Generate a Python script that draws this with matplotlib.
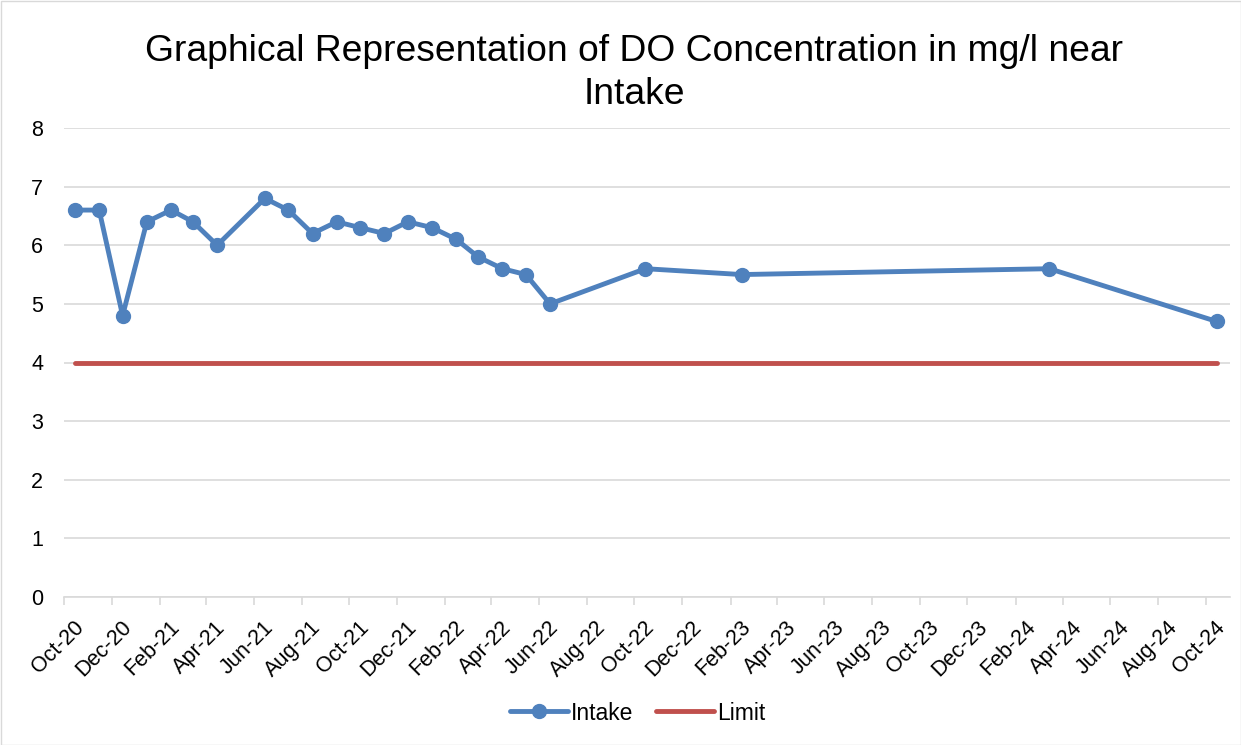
import matplotlib
matplotlib.use("Agg")
import matplotlib.pyplot as plt
import matplotlib.dates as mdates
import matplotlib.transforms as mtransforms
import pandas as pd

plt.rcParams['font.family'] = ['Liberation Sans', 'DejaVu Sans']

dates = ["2020-10-15", "2020-11-15", "2020-12-15", "2021-01-15", "2021-02-15",
         "2021-03-15", "2021-04-15", "2021-06-15", "2021-07-15", "2021-08-15",
         "2021-09-15", "2021-10-15", "2021-11-15", "2021-12-15", "2022-01-15",
         "2022-02-15", "2022-03-15", "2022-04-15", "2022-05-15", "2022-06-15",
         "2022-10-15", "2023-02-15", "2024-03-15", "2024-10-15"]
intake = [6.6, 6.6, 4.8, 6.4, 6.6, 6.4, 6.0, 6.8, 6.6, 6.2, 6.4, 6.3,
          6.2, 6.4, 6.3, 6.1, 5.8, 5.6, 5.5, 5.0, 5.6, 5.5, 5.6, 4.7]
limit = [4] * len(dates)

x = pd.to_datetime(dates)

fig = plt.figure(figsize=(12.41, 7.45), dpi=100)
ax = fig.add_axes([64/1241, 1-597/745, (1230-64)/1241, (597-128)/745])

blue = "#4f81bd"
red = "#c0504d"
ax.plot(x, intake, color=blue, lw=3.5, marker='o', ms=10, label="Intake", zorder=3,
        solid_capstyle='round')
ax.plot(x, limit, color=red, lw=3.5, label="Limit", zorder=2, solid_capstyle='round')

ax.set_ylim(0, 8)
ax.set_yticks(range(0, 9))
ax.set_xlim(pd.Timestamp("2020-10-01"), pd.Timestamp("2024-11-01"))
ax.xaxis.set_major_locator(mdates.MonthLocator(bymonth=[2, 4, 6, 8, 10, 12]))
ax.xaxis.set_major_formatter(mdates.DateFormatter("%b-%y"))

ax.grid(axis='y', color='#d9d9d9', lw=1.2)
ax.set_axisbelow(True)
for s in ['top', 'right', 'left']:
    ax.spines[s].set_visible(False)
ax.spines['bottom'].set_color('#d9d9d9')
ax.spines['bottom'].set_linewidth(1.2)
ax.tick_params(axis='y', length=0, labelsize=15.5, pad=15)
ax.tick_params(axis='x', direction='out', length=6, color='#d9d9d9', width=1.2,
               labelsize=15.5, pad=4)
offset = mtransforms.ScaledTranslation(9/100, -6/100, fig.dpi_scale_trans)
for lab in ax.get_xticklabels():
    lab.set_rotation(45)
    lab.set_ha('right')
    lab.set_rotation_mode('anchor')
    lab.set_transform(lab.get_transform() + offset)

fig.suptitle("Graphical Representation of DO Concentration in mg/l near\nIntake",
             fontsize=26.8, x=0.511, y=0.954, linespacing=1.3)

fig.legend(loc='center', bbox_to_anchor=(0.514, 1-713/745), ncol=2, frameon=False,
           fontsize=16.5, handlelength=2.5, columnspacing=1.0, handletextpad=0.15)

border = plt.Rectangle((0.5/1241, 0.5/745), 1-1/1241, 1-1/745, transform=fig.transFigure,
                       fill=False, edgecolor='#d9d9d9', lw=1)
fig.patches.append(border)

fig.savefig("out.png", dpi=100, facecolor='white')
